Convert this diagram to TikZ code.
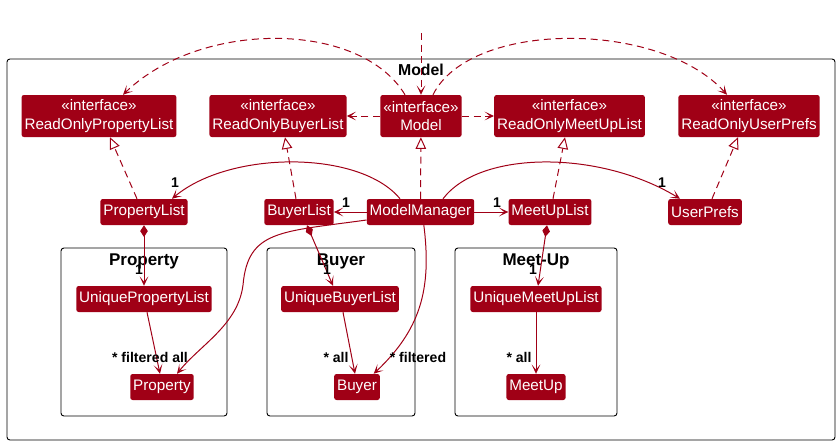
\documentclass[tikz,border=0pt]{standalone}
\usepackage{fontspec}
\setmainfont{Liberation Sans}
\usetikzlibrary{positioning}
\usetikzlibrary{arrows.meta}
\definecolor{umlred}{RGB}{160,0,22}

\begin{document}
\begin{tikzpicture}[x=0.03cm, y=-0.03cm,
    cls/.style={fill=umlred, text=white, rounded corners=2pt, inner xsep=2.5pt,
                minimum height=0.78cm, font=\fontsize{13}{15.5}\selectfont},
    iface/.style={cls, align=center, minimum height=1.26cm},
    pkg/.style={draw=black, line width=0.8pt, rounded corners=2.5pt},
    pkgname/.style={font=\bfseries\fontsize{14.5}{16}\selectfont, inner sep=0pt},
    lbl/.style={font=\bfseries\fontsize{12}{13}\selectfont, inner sep=0pt},
    tip/.tip={Stealth[length=8pt, width=7.5pt, inset=4.5pt]},
    dep/.style={draw=umlred, line width=0.85pt, dash pattern=on 6pt off 4pt, -tip},
    real/.style={draw=umlred, line width=0.85pt, dash pattern=on 6pt off 4pt,
                 -{Triangle[open, length=10pt, width=9pt, fill=white]}},
    assoc/.style={draw=umlred, line width=0.85pt, -tip},
    comp/.style={assoc, {Diamond[length=10pt, width=6.5pt]}-tip}]

\useasboundingbox (0,0) rectangle (840,445);

% packages
\begin{scope}
  \draw[pkg] (7,59) rectangle (835,440);
  \draw[pkg] (61,248) rectangle (227,416);
  \draw[pkg] (267,248) rectangle (415,416);
  \draw[pkg] (455,248) rectangle (617,416);
\end{scope}

\begin{scope}[every node/.style={pkgname}]
  \node[font=\bfseries\fontsize{13.5}{15}\selectfont] (modeltitle) at (421,70) {Model};
  \node (proptitle) at (144,261) {Property};
  \node (buyertitle) at (341,261) {Buyer};
  \node (meetuptitle) at (536,261) {Meet-Up};
\end{scope}

% classes
\begin{scope}[every node/.style={iface}]
  \node (roprop) at (99,116) {«interface»\\ReadOnlyPropertyList};
  \node (robuyer) at (278,116) {«interface»\\ReadOnlyBuyerList};
  \node (model) at (421,116) {«interface»\\Model};
  \node (romeetup) at (569.5,116) {«interface»\\ReadOnlyMeetUpList};
  \node (roprefs) at (749,116) {«interface»\\ReadOnlyUserPrefs};
\end{scope}

\begin{scope}[every node/.style={cls}]
  \node (proplist) at (144,212) {PropertyList};
  \node (buyerlist) at (299,212) {BuyerList};
  \node (manager) at (420.5,212) {ModelManager};
  \node (meetuplist) at (550,212) {MeetUpList};
  \node (prefs) at (705,212) {UserPrefs};
  \node (uprop) at (144,299) {UniquePropertyList};
  \node (ubuyer) at (340,299) {UniqueBuyerList};
  \node (umeetup) at (536,299) {UniqueMeetUpList};
  \node (property) at (162,387) {Property};
  \node (buyer) at (357,387) {Buyer};
  \node (meetup) at (536,387) {MeetUp};
\end{scope}

\coordinate (outside) at (421,33);

% dependencies
\path[dep] (outside) -- (model.north);
\path[dep] ([xshift=-0.48cm]model.north) .. controls (360,20) and (200,20) .. ([xshift=0.72cm]roprop.north);
\path[dep] ([xshift=0.36cm]model.north) .. controls (470,20) and (660,20) .. ([xshift=-0.66cm]roprefs.north);
\path[dep] (model) -- (robuyer);
\path[dep] (model) -- (romeetup);

% realizations
\path[real] ([xshift=-0.21cm]proplist.north) -- ([xshift=0.33cm]roprop.south);
\path[real] ([xshift=-0.09cm]buyerlist.north) -- ([xshift=0.21cm]robuyer.south);
\path[real] (manager) -- (model);
\path[real] ([xshift=0.09cm]meetuplist.north) -- ([xshift=-0.135cm]romeetup.south);
\path[real] ([xshift=0.21cm]prefs.north) -- ([xshift=-0.33cm]roprefs.south);

% associations
\path[assoc] ([xshift=-0.615cm]manager.north) .. controls (360,150) and (230,150) .. ([xshift=0.84cm]proplist.north);
\path[assoc] ([xshift=0.675cm]manager.north) .. controls (480,150) and (600,150) .. ([xshift=-0.75cm]prefs.north);
\path[assoc] (manager) -- (buyerlist);
\path[assoc] (manager) -- (meetuplist);
\path[assoc] ([yshift=-0.24cm]manager.west) .. controls (280,232) and (248,230) .. (243,285)
             .. controls (238,325) and (200,345) .. ([xshift=0.45cm]property.north);
\path[assoc] ([xshift=0.1cm]manager.south) .. controls (432,290) and (420,330) .. ([xshift=0.5cm]buyer.north);
\path[assoc] ([xshift=0.09cm]uprop.south) -- ([xshift=-0.06cm]property.north);
\path[assoc] ([xshift=0.09cm]ubuyer.south) -- ([xshift=-0.06cm]buyer.north);
\path[assoc] (umeetup) -- (meetup);

% compositions
\path[comp] (proplist) -- (uprop);
\path[comp] ([xshift=0.24cm]buyerlist.south) -- ([xshift=-0.21cm]ubuyer.north);
\path[comp] ([xshift=-0.09cm]meetuplist.south) -- ([xshift=0.06cm]umeetup.north);

% multiplicities
\begin{scope}[every node/.style={lbl}]
  \node (m1) at (175,183) {1};
  \node (m2) at (346,203) {1};
  \node (m3) at (497,203) {1};
  \node (m4) at (662,183) {1};
  \node (m5) at (139,270) {1};
  \node (m6) at (327,270) {1};
  \node (m7) at (533,270) {1};
  \node (m8) at (150,357) {* filtered all};
  \node (m9) at (336,357) {* all};
  \node (m10) at (418,357) {* filtered};
  \node (m11) at (519,357) {* all};
\end{scope}
\end{tikzpicture}
\end{document}
